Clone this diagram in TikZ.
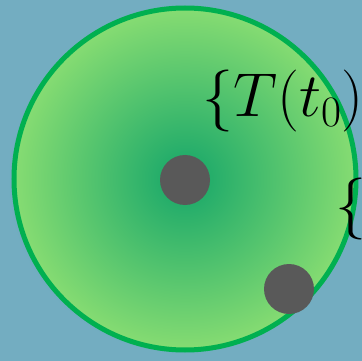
\RequirePackage{fix-cm}
\documentclass[tikz,border=0pt]{standalone}
\usepackage{amsmath}
\usepackage{tikz}

\definecolor{bgblue}{HTML}{68A3B7}
\definecolor{bglight}{HTML}{73ADC1}
\definecolor{discin}{HTML}{22AC6A}
\definecolor{discout}{HTML}{86DC72}
\definecolor{discrim}{HTML}{00B050}
\definecolor{pointgray}{HTML}{595959}

\pgfdeclareradialshading{discshade}{\pgfpoint{0bp}{0bp}}{%
  color(0bp)=(discin); color(3bp)=(discin); color(25bp)=(discout); color(50bp)=(discout)}

\begin{document}
\begin{tikzpicture}[
  x=1pt, y=-1pt,
  disc/.style={shading=discshade, draw=discrim, line width=5pt},
  pt/.style={circle, fill=pointgray, minimum size=50pt, inner sep=0pt},
  lbl/.style={anchor=base west, inner sep=0pt, font=\fontsize{62}{74}\selectfont}
]
  \useasboundingbox (0,0) rectangle (362,361);
  \shade[inner color=bgblue, outer color=bglight] (0,0) rectangle (362,361);
  \shade[disc] (185,179) circle (171);
  \node[pt] (centre) at (185,180) {};
  \node[pt] (edge) at (289,289) {};
  \node[lbl] (set) at (202,117) {$\{T(t_0)$};
  \node[lbl] (brace) at (335,224) {$\{$};
\end{tikzpicture}
\end{document}
